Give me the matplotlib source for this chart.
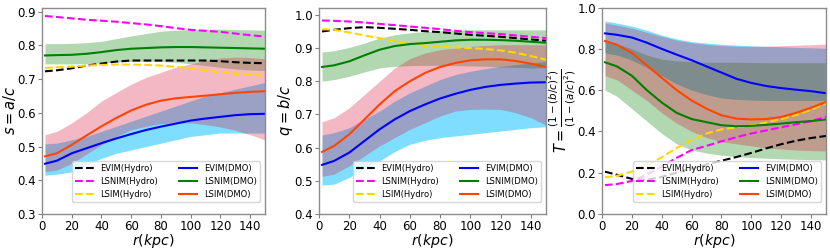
import matplotlib
matplotlib.use("Agg")
import matplotlib.pyplot as plt
import numpy as np

r = [2, 10, 20, 30, 40, 50, 60, 70, 80, 90, 100, 110, 120, 130, 140, 150]

# Panel 1: s = a/c
s_evim_h = [0.723, 0.726, 0.732, 0.740, 0.746, 0.752, 0.755, 0.755, 0.755, 0.755, 0.755, 0.755, 0.753, 0.750, 0.748, 0.747]
s_lsnim_h = [0.887, 0.884, 0.880, 0.876, 0.873, 0.870, 0.866, 0.862, 0.857, 0.851, 0.846, 0.843, 0.840, 0.835, 0.830, 0.826]
s_lsim_h = [0.733, 0.735, 0.737, 0.740, 0.742, 0.743, 0.743, 0.742, 0.740, 0.736, 0.732, 0.726, 0.720, 0.716, 0.713, 0.710]
s_evim_d = [0.449, 0.458, 0.480, 0.495, 0.510, 0.524, 0.537, 0.549, 0.559, 0.568, 0.577, 0.583, 0.588, 0.593, 0.596, 0.597]
s_evim_d_lo = [0.415, 0.418, 0.425, 0.445, 0.465, 0.480, 0.490, 0.500, 0.510, 0.520, 0.530, 0.535, 0.540, 0.540, 0.540, 0.540]
s_evim_d_hi = [0.508, 0.510, 0.520, 0.530, 0.545, 0.560, 0.575, 0.590, 0.605, 0.620, 0.635, 0.650, 0.660, 0.670, 0.680, 0.690]
s_lsnim_d = [0.770, 0.771, 0.772, 0.775, 0.780, 0.786, 0.790, 0.792, 0.794, 0.795, 0.795, 0.794, 0.793, 0.792, 0.791, 0.790]
s_lsnim_d_lo = [0.745, 0.745, 0.745, 0.746, 0.748, 0.750, 0.752, 0.753, 0.752, 0.750, 0.745, 0.740, 0.735, 0.730, 0.727, 0.725]
s_lsnim_d_hi = [0.805, 0.805, 0.806, 0.808, 0.812, 0.820, 0.828, 0.835, 0.842, 0.845, 0.847, 0.848, 0.848, 0.847, 0.846, 0.845]
s_lsim_d = [0.471, 0.480, 0.505, 0.533, 0.560, 0.585, 0.607, 0.624, 0.636, 0.643, 0.647, 0.651, 0.655, 0.659, 0.662, 0.664]
s_lsim_d_lo = [0.425, 0.430, 0.450, 0.478, 0.505, 0.530, 0.550, 0.560, 0.568, 0.570, 0.570, 0.565, 0.558, 0.548, 0.535, 0.520]
s_lsim_d_hi = [0.535, 0.545, 0.570, 0.600, 0.635, 0.660, 0.685, 0.705, 0.720, 0.735, 0.745, 0.755, 0.763, 0.765, 0.764, 0.760]

# Panel 2: q = b/c
q_evim_h = [0.950, 0.955, 0.960, 0.963, 0.961, 0.958, 0.955, 0.951, 0.948, 0.944, 0.940, 0.937, 0.934, 0.930, 0.926, 0.922]
q_lsnim_h = [0.983, 0.982, 0.980, 0.977, 0.973, 0.969, 0.965, 0.961, 0.957, 0.952, 0.948, 0.945, 0.942, 0.938, 0.934, 0.930]
q_lsim_h = [0.957, 0.955, 0.947, 0.938, 0.930, 0.921, 0.912, 0.907, 0.904, 0.902, 0.900, 0.897, 0.893, 0.886, 0.876, 0.865]
q_evim_d = [0.548, 0.560, 0.585, 0.620, 0.655, 0.685, 0.710, 0.730, 0.748, 0.762, 0.774, 0.783, 0.789, 0.793, 0.796, 0.797]
q_evim_d_lo = [0.487, 0.490, 0.510, 0.535, 0.560, 0.588, 0.610, 0.622, 0.630, 0.635, 0.640, 0.645, 0.650, 0.655, 0.660, 0.663]
q_evim_d_hi = [0.638, 0.645, 0.660, 0.685, 0.710, 0.740, 0.765, 0.785, 0.805, 0.820, 0.830, 0.838, 0.845, 0.850, 0.855, 0.860]
q_lsnim_d = [0.843, 0.848, 0.860, 0.878, 0.895, 0.906, 0.912, 0.915, 0.919, 0.923, 0.925, 0.925, 0.924, 0.922, 0.919, 0.916]
q_lsnim_d_lo = [0.800, 0.805, 0.815, 0.828, 0.840, 0.845, 0.847, 0.848, 0.848, 0.847, 0.846, 0.845, 0.843, 0.842, 0.840, 0.840]
q_lsnim_d_hi = [0.888, 0.892, 0.902, 0.915, 0.930, 0.940, 0.946, 0.950, 0.952, 0.954, 0.955, 0.955, 0.955, 0.955, 0.955, 0.955]
q_lsim_d = [0.587, 0.605, 0.640, 0.685, 0.730, 0.770, 0.800, 0.825, 0.843, 0.855, 0.863, 0.866, 0.866, 0.861, 0.853, 0.843]
q_lsim_d_lo = [0.513, 0.520, 0.545, 0.575, 0.605, 0.630, 0.655, 0.675, 0.695, 0.710, 0.715, 0.716, 0.715, 0.705, 0.690, 0.668]
q_lsim_d_hi = [0.678, 0.690, 0.720, 0.760, 0.800, 0.840, 0.868, 0.885, 0.895, 0.900, 0.905, 0.908, 0.910, 0.910, 0.910, 0.910]

# Panel 3: triaxiality T
t_evim_h = [0.205, 0.190, 0.170, 0.165, 0.180, 0.200, 0.220, 0.240, 0.258, 0.276, 0.296, 0.318, 0.338, 0.355, 0.368, 0.378]
t_lsnim_h = [0.140, 0.145, 0.160, 0.190, 0.230, 0.272, 0.310, 0.330, 0.352, 0.372, 0.390, 0.405, 0.420, 0.435, 0.450, 0.470]
t_lsim_h = [0.178, 0.185, 0.205, 0.235, 0.275, 0.320, 0.360, 0.390, 0.410, 0.420, 0.430, 0.443, 0.460, 0.480, 0.505, 0.535]
t_evim_d = [0.875, 0.868, 0.855, 0.830, 0.800, 0.772, 0.745, 0.715, 0.685, 0.655, 0.635, 0.620, 0.610, 0.602, 0.595, 0.585]
t_evim_d_lo = [0.780, 0.770, 0.745, 0.710, 0.670, 0.630, 0.600, 0.578, 0.562, 0.555, 0.552, 0.550, 0.550, 0.550, 0.550, 0.550]
t_evim_d_hi = [0.935, 0.925, 0.910, 0.890, 0.867, 0.848, 0.835, 0.828, 0.822, 0.818, 0.815, 0.812, 0.810, 0.807, 0.805, 0.803]
t_lsnim_d = [0.735, 0.715, 0.670, 0.600, 0.540, 0.490, 0.460, 0.445, 0.430, 0.425, 0.427, 0.432, 0.438, 0.445, 0.450, 0.458]
t_lsnim_d_lo = [0.600, 0.570, 0.510, 0.450, 0.390, 0.340, 0.310, 0.295, 0.285, 0.278, 0.273, 0.270, 0.267, 0.265, 0.263, 0.262]
t_lsnim_d_hi = [0.835, 0.825, 0.800, 0.770, 0.750, 0.742, 0.738, 0.735, 0.735, 0.735, 0.734, 0.733, 0.733, 0.733, 0.733, 0.733]
t_lsim_d = [0.838, 0.820, 0.780, 0.720, 0.660, 0.600, 0.550, 0.510, 0.478, 0.462, 0.458, 0.460, 0.470, 0.490, 0.515, 0.543]
t_lsim_d_lo = [0.670, 0.650, 0.600, 0.550, 0.490, 0.440, 0.400, 0.370, 0.350, 0.340, 0.330, 0.320, 0.315, 0.310, 0.307, 0.305]
t_lsim_d_hi = [0.925, 0.915, 0.900, 0.880, 0.860, 0.842, 0.830, 0.822, 0.816, 0.813, 0.812, 0.813, 0.815, 0.818, 0.820, 0.823]

labels = ["EVIM(Hydro)", "LSNIM(Hydro)", "LSIM(Hydro)", "EVIM(DMO)", "LSNIM(DMO)", "LSIM(DMO)"]
xticks = [0, 20, 40, 60, 80, 100, 120, 140]

panels = [
    dict(h=(s_evim_h, s_lsnim_h, s_lsim_h),
         d=(s_evim_d, s_lsnim_d, s_lsim_d),
         lo=(s_evim_d_lo, s_lsnim_d_lo, s_lsim_d_lo),
         hi=(s_evim_d_hi, s_lsnim_d_hi, s_lsim_d_hi),
         ylim=(0.3, 0.912), yticks=[0.3, 0.4, 0.5, 0.6, 0.7, 0.8, 0.9],
         ylabel=r"$s=a/c$", pos=[42 / 830, 0.1406, 223 / 830, 0.829]),
    dict(h=(q_evim_h, q_lsnim_h, q_lsim_h),
         d=(q_evim_d, q_lsnim_d, q_lsim_d),
         lo=(q_evim_d_lo, q_lsnim_d_lo, q_lsim_d_lo),
         hi=(q_evim_d_hi, q_lsnim_d_hi, q_lsim_d_hi),
         ylim=(0.4, 1.022), yticks=[0.4, 0.5, 0.6, 0.7, 0.8, 0.9, 1.0],
         ylabel=r"$q=b/c$", pos=[319 / 830, 0.1406, 227 / 830, 0.829]),
    dict(h=(t_evim_h, t_lsnim_h, t_lsim_h),
         d=(t_evim_d, t_lsnim_d, t_lsim_d),
         lo=(t_evim_d_lo, t_lsnim_d_lo, t_lsim_d_lo),
         hi=(t_evim_d_hi, t_lsnim_d_hi, t_lsim_d_hi),
         ylim=(0.0, 1.0), yticks=[0.0, 0.2, 0.4, 0.6, 0.8, 1.0],
         ylabel=r"$T=\frac{(1-(b/c)^2)}{(1-(a/c)^2)}$", pos=[602 / 830, 0.1406, 224 / 830, 0.829]),
]

hcolors = ["black", "magenta", "gold"]
dcolors = ["blue", "green", "orangered"]
fcolors = [("deepskyblue", 0.5), ("green", 0.3), ("crimson", 0.3)]

fig = plt.figure(figsize=(8.3, 2.49), dpi=100)
for p in panels:
    ax = fig.add_axes(p["pos"])
    for lo, hi, (fc, a) in zip(p["lo"], p["hi"], fcolors):
        ax.fill_between(r, lo, hi, color=fc, alpha=a, linewidth=0)
    hl = []
    for y, c, lab in zip(p["h"], hcolors, labels[:3]):
        l, = ax.plot(r, y, "--", color=c, lw=1.5, label=lab)
        hl.append(l)
    dl = []
    for y, c, lab in zip(p["d"], dcolors, labels[3:]):
        l, = ax.plot(r, y, "-", color=c, lw=1.5, label=lab)
        dl.append(l)
    ax.set_xlim(0, 150)
    ax.set_ylim(*p["ylim"])
    ax.set_xticks(xticks)
    ax.set_yticks(p["yticks"])
    ax.tick_params(labelsize=8.5, length=3, color="0.5", width=0.8, pad=1.2)
    for s in ax.spines.values():
        s.set_color("0.55")
        s.set_linewidth(1.0)
    ax.set_xlabel(r"$r(kpc)$", fontsize=10.2, labelpad=-0.8)
    ax.set_ylabel(p["ylabel"], fontsize=10.5, labelpad=0)
    ax.legend(handles=hl + dl, ncol=2, fontsize=6, loc="lower right",
              bbox_to_anchor=(0.978, 0.058), borderaxespad=0,
              handlelength=2.2, columnspacing=2.5, labelspacing=0.45)

fig.savefig("out.png", dpi=100)
